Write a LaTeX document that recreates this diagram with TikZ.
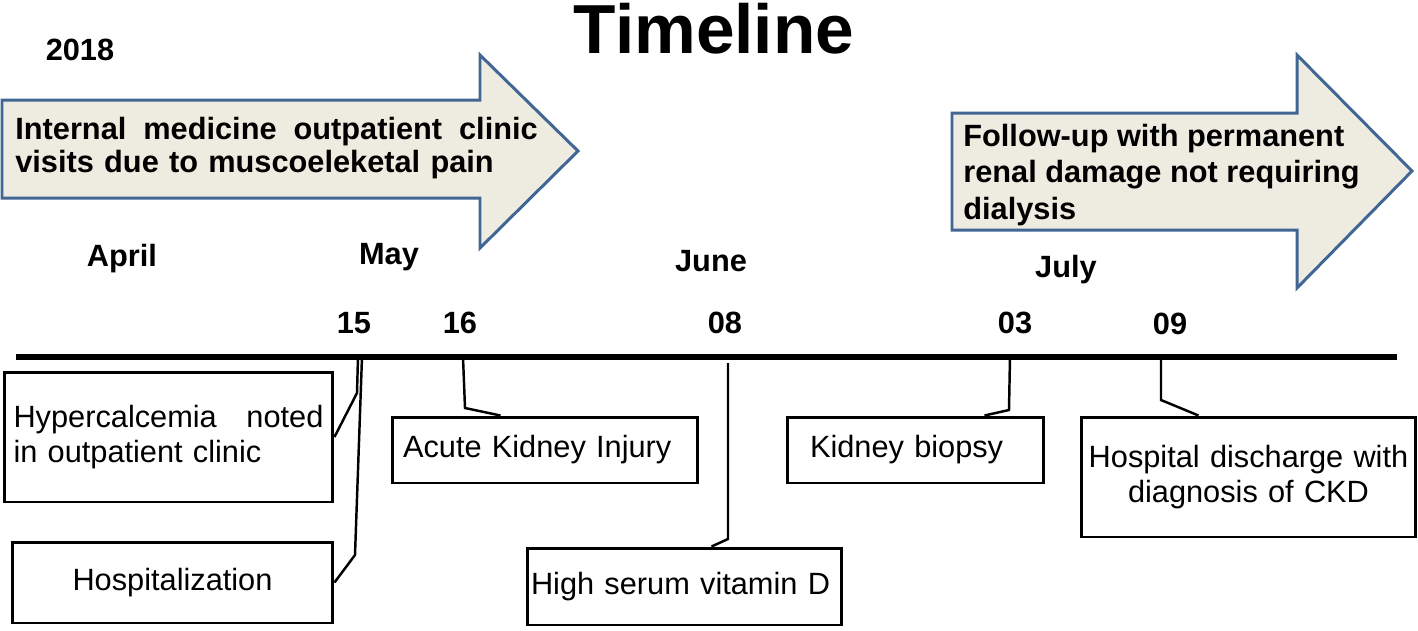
\documentclass[tikz,border=0pt]{standalone}
\usepackage{fontspec}
\setmainfont{Liberation Sans}
\definecolor{arrowfill}{RGB}{238,236,225}
\definecolor{arrowline}{RGB}{65,102,148}
\begin{document}
\begin{tikzpicture}[x=0.02cm, y=-0.02cm]

% Styles
\tikzstyle{lbl}      = [inner sep=0pt, anchor=base, font=\bfseries\fontsize{17.5}{20}\selectfont]
\tikzstyle{event}    = [draw, rectangle, line width=1.7pt, inner sep=0pt, font=\fontsize{17.5}{20.4}\selectfont]
\tikzstyle{band}     = [draw=arrowline, fill=arrowfill, line width=1.7pt, line join=miter]
\tikzstyle{bandtext} = [inner sep=0pt, anchor=west, align=left, font=\bfseries\fontsize{17.5}{19.3}\selectfont]
\tikzstyle{link}     = [line width=1.4pt]

\useasboundingbox (0,0) rectangle (1418,630);

% Arrows
\draw [band] (2,100) -- (480,100) -- (480,55) -- (578,151) -- (480,248) -- (480,198) -- (2,198) -- cycle;
\draw [band] (952,113) -- (1297,113) -- (1297,55) -- (1412,171) -- (1297,288) -- (1297,230) -- (952,230) -- cycle;

% Titles
\node [lbl, font=\bfseries\fontsize{39.5}{44}\selectfont] (title) at (714,53) {Timeline};
\node [lbl] (year) at (80,60) {2018};
\node [bandtext, text width=10.45cm] (clinic) at (15,148) {Internal\hfill medicine\hfill outpatient\hfill clinic\\visits due to muscoeleketal pain};
\node [bandtext, font=\bfseries\fontsize{17.5}{21}\selectfont] (followup) at (963,175) {Follow-up with permanent\\renal damage not requiring\\dialysis};

% Months
\node [lbl] (apr) at (122,266) {April};
\node [lbl] (may) at (389,264) {May};
\node [lbl] (jun) at (711,271) {June};
\node [lbl] (jul) at (1066,277) {July};

% Days
\node [lbl] (d15) at (354,333) {15};
\node [lbl] (d16) at (460,333) {16};
\node [lbl] (d08) at (725,333) {08};
\node [lbl] (d03) at (1015,333) {03};
\node [lbl] (d09) at (1170,334) {09};

% Time axis
\coordinate (tlstart) at (16,357);
\coordinate (tlend) at (1397,357);
\draw [line width=3.2pt] (tlstart) -- (tlend);

% Events
\node [event, minimum width=6.58cm, minimum height=2.6cm, text width=6.2cm, align=left] (hyper) at (168.5,437) {Hypercalcemia\hfill noted\\in outpatient clinic};
\node [event, minimum width=6.42cm, minimum height=1.62cm, align=center] (hosp) at (172.5,582.5) {Hospitalization};
\node [event, minimum width=6.12cm, minimum height=1.32cm, text width=5.68cm, align=left] (aki) at (545,450) {Acute Kidney Injury};
\node [event, minimum width=6.3cm, minimum height=1.54cm, text width=6.14cm, align=left] (vitd) at (684.5,586.5) {High serum vitamin D};
\node [event, minimum width=5.14cm, minimum height=1.32cm, text width=4.22cm, align=left] (biopsy) at (915.5,450) {Kidney biopsy};
\node [event, minimum width=6.7cm, minimum height=2.4cm, text width=6.5cm, align=center] (disch) at (1248.5,477) {Hospital discharge with\\diagnosis of CKD};

% Connections
\coordinate (t15a) at (358,357);
\coordinate (t15b) at (362,357);
\coordinate (t16) at (463,357);
\coordinate (t08) at (728,363);
\coordinate (t03) at (1010,357);
\coordinate (t09) at (1161,357);
\draw [link] (t15a) -- (357,393) -- (hyper.east);
\draw [link] (t15b) -- (355,555) -- (hosp.east);
\draw [link] (t16) -- (465,408) -- ([xshift=2.2cm]aki.north west);
\draw [link] (t08) -- (728,539) -- ([xshift=3.72cm]vitd.north west);
\draw [link] (t03) -- (1009,410) -- ([xshift=-1.22cm]biopsy.north east);
\draw [link] (t09) -- (1161,400) -- ([xshift=2.38cm]disch.north west);

\end{tikzpicture}
\end{document}
